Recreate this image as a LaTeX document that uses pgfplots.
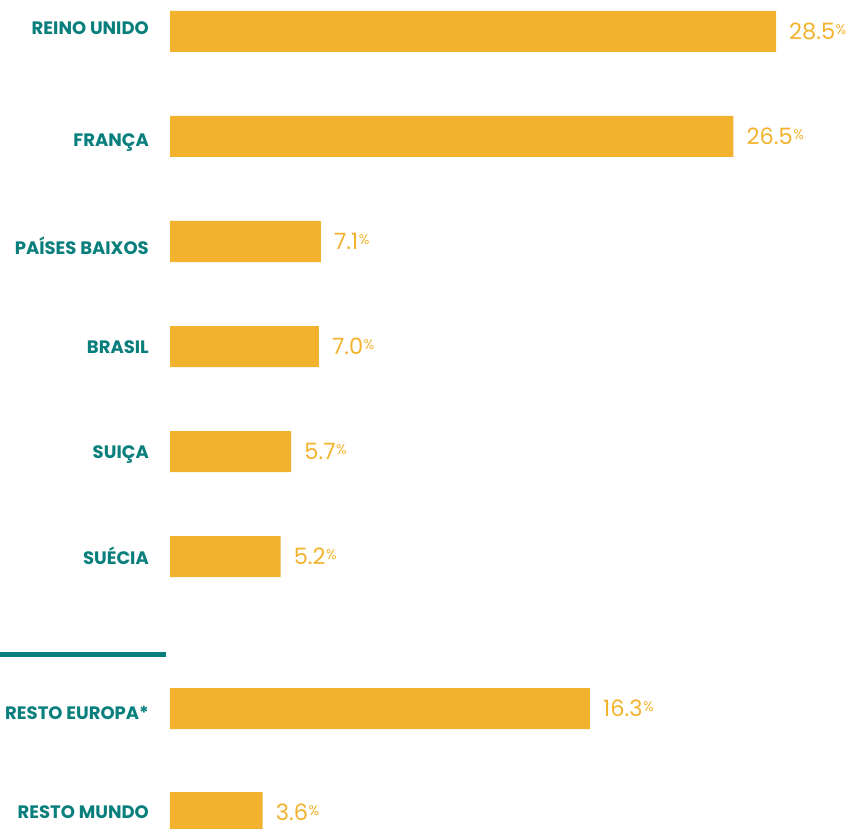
\documentclass[border=0pt]{standalone}
\usepackage{pgfplots}
\pgfplotsset{compat=1.18}
\usepackage{fontspec}
\setmainfont{Poppins}
\definecolor{barc}{RGB}{243,178,45}
\definecolor{tealc}{RGB}{8,127,124}
\begin{document}
\begin{tikzpicture}
\useasboundingbox (0,0) rectangle (846pt,829pt);
\pgfplotsset{
  base/.style={
    at={(0,0)}, anchor=south west,
    width=846pt, height=829pt, scale only axis,
    ymin=0, ymax=829, y dir=reverse,
    axis line style={draw=none}, major tick style={draw=none},
    xtick=\empty, clip=false,
    yticklabel style={anchor=base east, inner sep=0pt, xshift=149pt,
      font=\fontsize{18}{18}\selectfont\bfseries, text=tealc},
    /pgf/number format/assume math mode=true,
  },
  vals/.style={
    xbar, fill=barc, draw=none, bar width=41pt,
    nodes near coords={\pgfmathprintnumber[fixed,precision=1,fixed zerofill]{\pgfplotspointmeta}\hspace{0.5pt}\raisebox{5.5pt}[0pt][0pt]{\fontsize{14}{14}\selectfont\%}},
    nodes near coords style={anchor=west, inner sep=0pt, xshift=13pt,
      text=barc, font=\fontsize{22.5}{22.5}\selectfont},
  },
}
% main countries
\begin{axis}[base,
  xmin=-7.995, xmax=31.792,
  ytick={35,147,254.3,353.3,458.3,564},
  yticklabels={REINO UNIDO,FRANÇA,PAÍSES BAIXOS,BRASIL,SUIÇA,SUÉCIA},
]
\addplot[vals] coordinates {(28.5,31.5) (26.5,136.5) (7.1,241.5) (7.0,346.5) (5.7,451.5) (5.2,556.5)};
\draw[tealc, line width=5.5pt] (axis cs:-7.995,654.5) -- (axis cs:-0.188,654.5);
\end{axis}
% rest groups
\begin{axis}[base,
  xmin=-6.599, xmax=26.242,
  ytick={719.3,818.3},
  yticklabels={RESTO EUROPA*,RESTO MUNDO},
]
\addplot[vals] coordinates {(16.3,708.5) (3.6,812.5)};
\end{axis}
\end{tikzpicture}
\end{document}
